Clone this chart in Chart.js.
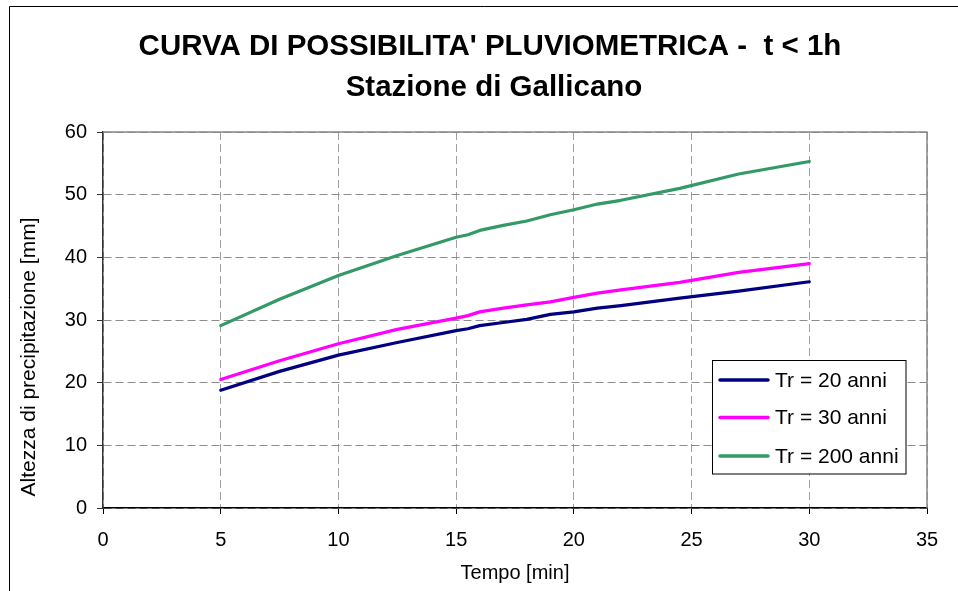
<!DOCTYPE html>
<html>
<head>
<meta charset="utf-8">
<script src="https://cdn.jsdelivr.net/npm/chart.js@4/dist/chart.umd.min.js"></script>
<style>
html,body{margin:0;padding:0;background:#fff;}
#wrap{width:958px;height:591px;position:relative;}
</style>
</head>
<body>
<div id="wrap"><canvas id="c" width="958" height="591"></canvas></div>
<script>
// ---- data ----
const times = [5, 7.5, 10, 12.5, 15, 15.5, 16, 17, 18, 19, 20, 21, 22, 24.5, 27, 30];
const tr20  = [18.8, 21.8, 24.4, 26.4, 28.3, 28.6, 29.1, 29.6, 30.1, 30.9, 31.3, 31.9, 32.3, 33.5, 34.6, 36.1];
const tr30  = [20.5, 23.5, 26.2, 28.5, 30.3, 30.7, 31.3, 31.9, 32.4, 32.9, 33.6, 34.3, 34.8, 36.0, 37.6, 39.0];
const tr200 = [29.1, 33.3, 37.1, 40.3, 43.2, 43.6, 44.3, 45.1, 45.8, 46.8, 47.6, 48.5, 49.1, 51.0, 53.3, 55.3];
const seriesNames = ['Tr = 20 anni', 'Tr = 30 anni', 'Tr = 200 anni'];
const titleLines = ["CURVA DI POSSIBILITA' PLUVIOMETRICA -  t < 1h", 'Stazione di Gallicano'];
const xTitle = 'Tempo [min]';
const yTitle = 'Altezza di precipitazione [mm]';
const xMin = 0, xMax = 35, xStep = 5;
const yMin = 0, yMax = 60, yStep = 10;

const colors = ['#000080', '#FF00FF', '#339966'];
const FONT = "'Liberation Sans', Arial, sans-serif";

function pts(vals){ return times.map((t,i)=>({x:t, y:vals[i]})); }

const decor = {
  id: 'decor',
  beforeDraw(chart){
    const ctx = chart.ctx;
    ctx.save();
    ctx.fillStyle = '#fff';
    ctx.fillRect(0,0,chart.width,chart.height);
    // outer chart frame (only left/top visible)
    ctx.strokeStyle = '#000';
    ctx.lineWidth = 1;
    ctx.beginPath();
    ctx.moveTo(9.5, chart.height + 5);
    ctx.lineTo(9.5, 6.5);
    ctx.lineTo(chart.width + 5, 6.5);
    ctx.stroke();
    // titles
    ctx.fillStyle = '#000';
    ctx.textAlign = 'center';
    ctx.textBaseline = 'middle';
    ctx.font = 'bold 29.5px ' + FONT;
    ctx.fillText(titleLines[0], 490, 47);
    ctx.fillText(titleLines[1], 494, 88);
    // y axis title
    ctx.save();
    ctx.translate(29.5, 357);
    ctx.rotate(-Math.PI/2);
    ctx.font = '21px ' + FONT;
    ctx.fillText(yTitle, 0, 0);
    ctx.restore();
    ctx.restore();
  },
  beforeDatasetsDraw(chart){
    const {ctx, chartArea:a} = chart;
    ctx.save();
    ctx.strokeStyle = '#888';
    ctx.lineWidth = 1.5;
    ctx.beginPath();
    ctx.moveTo(a.left, a.top);
    ctx.lineTo(a.right, a.top);
    ctx.lineTo(a.right, a.bottom);
    ctx.stroke();
    ctx.restore();
  },
  afterDraw(chart){
    const ctx = chart.ctx;
    const bx = 712.5, by = 360.5, bw = 193.5, bh = 113.5;
    ctx.save();
    ctx.fillStyle = '#fff';
    ctx.fillRect(bx, by, bw, bh);
    ctx.strokeStyle = '#000';
    ctx.lineWidth = 1;
    ctx.strokeRect(bx, by, bw, bh);
    const rows = [380, 417.5, 456];
    ctx.font = '21px ' + FONT;
    ctx.textBaseline = 'middle';
    ctx.textAlign = 'left';
    chart.data.datasets.forEach((ds, i) => {
      ctx.strokeStyle = ds.borderColor;
      ctx.lineWidth = 3.5;
      ctx.lineCap = 'round';
      ctx.beginPath();
      ctx.moveTo(720, rows[i]);
      ctx.lineTo(768, rows[i]);
      ctx.stroke();
      ctx.fillStyle = '#000';
      ctx.fillText(ds.label, 775, rows[i] + 1);
    });
    ctx.restore();
  }
};

new Chart(document.getElementById('c'), {
  type: 'line',
  data: {
    datasets: [
      { label: seriesNames[0], data: pts(tr20),  borderColor: colors[0], backgroundColor: colors[0] },
      { label: seriesNames[1], data: pts(tr30),  borderColor: colors[1], backgroundColor: colors[1] },
      { label: seriesNames[2], data: pts(tr200), borderColor: colors[2], backgroundColor: colors[2] }
    ]
  },
  options: {
    responsive: false,
    animation: false,
    devicePixelRatio: 1,
    layout: { padding: { top: 132, right: 31, bottom: 0, left: 0 } },
    elements: {
      point: { radius: 0, hoverRadius: 0 },
      line: { borderWidth: 3.2, tension: 0, borderCapStyle: 'round', borderJoinStyle: 'round' }
    },
    plugins: {
      legend: { display: false },
      title: { display: false },
      tooltip: { enabled: false }
    },
    scales: {
      x: {
        type: 'linear', min: xMin, max: xMax,
        ticks: { stepSize: xStep, padding: 14, color: '#000', font: { family: FONT, size: 20 }, maxRotation: 0 },
        grid: { color: '#a0a0a0', lineWidth: 1, tickLength: 6, tickColor: '#000', tickWidth: 1, tickBorderDash: [] },
        border: { display: true, color: '#000', width: 1.5, dash: [8, 4] },
        title: { display: true, text: xTitle, color: '#000', font: { family: FONT, size: 20 }, padding: { top: 0, bottom: 6 } },
        afterFit(s){ s.height = 83; }
      },
      y: {
        type: 'linear', min: yMin, max: yMax,
        ticks: { stepSize: yStep, padding: 10, color: '#000', font: { family: FONT, size: 20 } },
        grid: { color: '#8c8c8c', lineWidth: 1, tickLength: 6, tickColor: '#333', tickWidth: 1, tickBorderDash: [] },
        border: { display: true, color: '#333', width: 1.5, dash: [8, 4] },
        afterFit(s){ s.width = 103; }
      }
    }
  },
  plugins: [decor]
});
</script>
</body>
</html>
